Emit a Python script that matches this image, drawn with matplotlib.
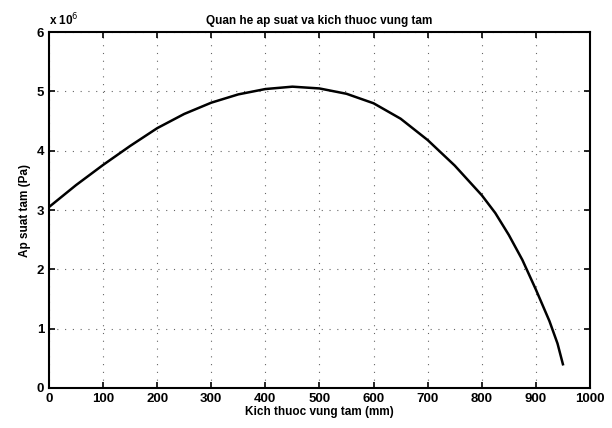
import matplotlib
matplotlib.use('Agg')
import matplotlib.pyplot as plt

plt.rcParams['font.family'] = ['Liberation Sans', 'DejaVu Sans']

# kich thuoc vung tam (mm) vs ap suat tam (x 1e6 Pa)
size_mm = [0, 50, 100, 150, 200, 250, 300, 350, 400, 450, 500, 550,
           600, 650, 700, 750, 800, 825, 850, 875, 900, 925, 940, 950]
pressure = [3.05, 3.42, 3.76, 4.08, 4.38, 4.62, 4.81, 4.95, 5.04, 5.08, 5.05, 4.96,
            4.80, 4.54, 4.18, 3.75, 3.25, 2.95, 2.58, 2.16, 1.66, 1.13, 0.75, 0.40]

xticks = list(range(0, 1001, 100))
yticks = list(range(0, 7))

fig = plt.figure(figsize=(6.12, 4.28), dpi=100)
ax = fig.add_axes([0.080, 0.0935, 0.884, 0.8315])
ax.plot(size_mm, pressure, color='black', linewidth=1.8, solid_joinstyle='round')

ax.set_xlim(0, 1000)
ax.set_ylim(0, 6)
ax.set_xticks(xticks)
ax.set_yticks(yticks)
ax.grid(True, linestyle=(0, (1, 6)), color='black', linewidth=0.8, alpha=0.6)
ax.tick_params(direction='in', top=True, right=True, labelsize=9.5, width=1.2, length=4)
for s in ax.spines.values():
    s.set_linewidth(1.5)

ax.text(0.0, 1.01, r'x 10$^6$', transform=ax.transAxes, fontsize=8.5,
        fontweight='bold', va='bottom', ha='left')
ax.set_title('Quan he ap suat va kich thuoc vung tam', fontsize=8.5, fontweight='bold', pad=6)
ax.set_xlabel('Kich thuoc vung tam (mm)', fontsize=8.5, fontweight='bold', labelpad=1)
ax.set_ylabel('Ap suat tam (Pa)', fontsize=8.5, fontweight='bold', labelpad=4)
for lbl in ax.get_xticklabels() + ax.get_yticklabels():
    lbl.set_fontweight('bold')

fig.savefig('out.png', dpi=100)
